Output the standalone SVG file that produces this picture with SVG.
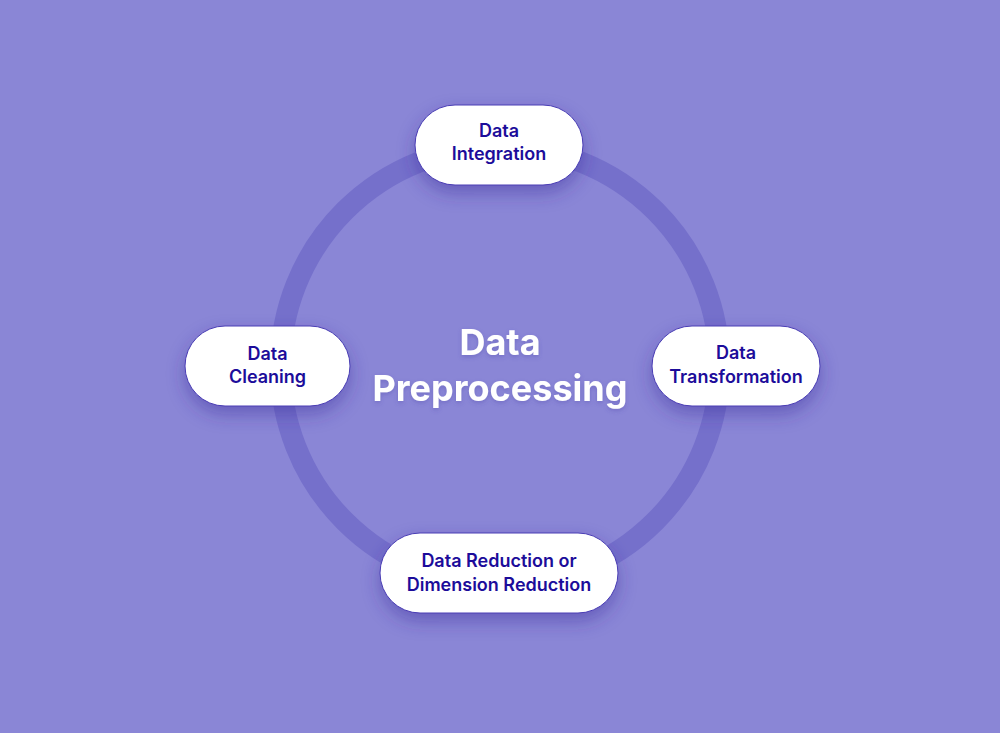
<svg xmlns="http://www.w3.org/2000/svg" width="1000" height="733" viewBox="0 0 1000 733">
  <defs>
    <filter id="shadow" x="-30%" y="-40%" width="160%" height="200%">
      <feDropShadow dx="0" dy="8" stdDeviation="9" flood-color="#3a2f9c" flood-opacity="0.45"/>
    </filter>
    <filter id="tshadow" x="-10%" y="-20%" width="120%" height="140%">
      <feDropShadow dx="0" dy="2" stdDeviation="2" flood-color="#4a3fa8" flood-opacity="0.35"/>
    </filter>
  </defs>
  <style>
    .pill { fill: #ffffff; stroke: #4a3db4; stroke-width: 1; filter: url(#shadow); }
    .label { font-family: Inter, "Noto Sans", "Liberation Sans", sans-serif; font-weight: 600; font-size: 18px; fill: #1c0c9a; text-anchor: middle; }
    .title { font-family: Inter, "Noto Sans", "Liberation Sans", sans-serif; font-weight: 700; font-size: 36px; fill: #ffffff; text-anchor: middle; filter: url(#tshadow); }
  </style>
  <rect x="0" y="0" width="1000" height="733" fill="#8a86d6"/>
  <g id="connectors">
    <circle cx="500" cy="366" r="219.5" fill="none" stroke="#7570cb" stroke-width="21"/>
  </g>
  <g id="center">
    <text class="title" x="500" y="355">Data</text>
    <text class="title" x="500" y="401">Preprocessing</text>
  </g>
  <g id="node-integration">
    <rect class="pill" x="415" y="105" width="168" height="80" rx="40" ry="40"/>
    <text class="label" x="499" y="137">Data</text>
    <text class="label" x="499" y="160">Integration</text>
  </g>
  <g id="node-cleaning">
    <rect class="pill" x="185" y="326" width="165" height="80" rx="40" ry="40"/>
    <text class="label" x="267.5" y="360">Data</text>
    <text class="label" x="267.5" y="383">Cleaning</text>
  </g>
  <g id="node-transformation">
    <rect class="pill" x="652" y="326" width="168" height="80" rx="40" ry="40"/>
    <text class="label" x="736" y="359">Data</text>
    <text class="label" x="736" y="383">Transformation</text>
  </g>
  <g id="node-reduction">
    <rect class="pill" x="380" y="533" width="238" height="80" rx="40" ry="40"/>
    <text class="label" x="499" y="567">Data Reduction or</text>
    <text class="label" x="499" y="591">Dimension Reduction</text>
  </g>
</svg>
